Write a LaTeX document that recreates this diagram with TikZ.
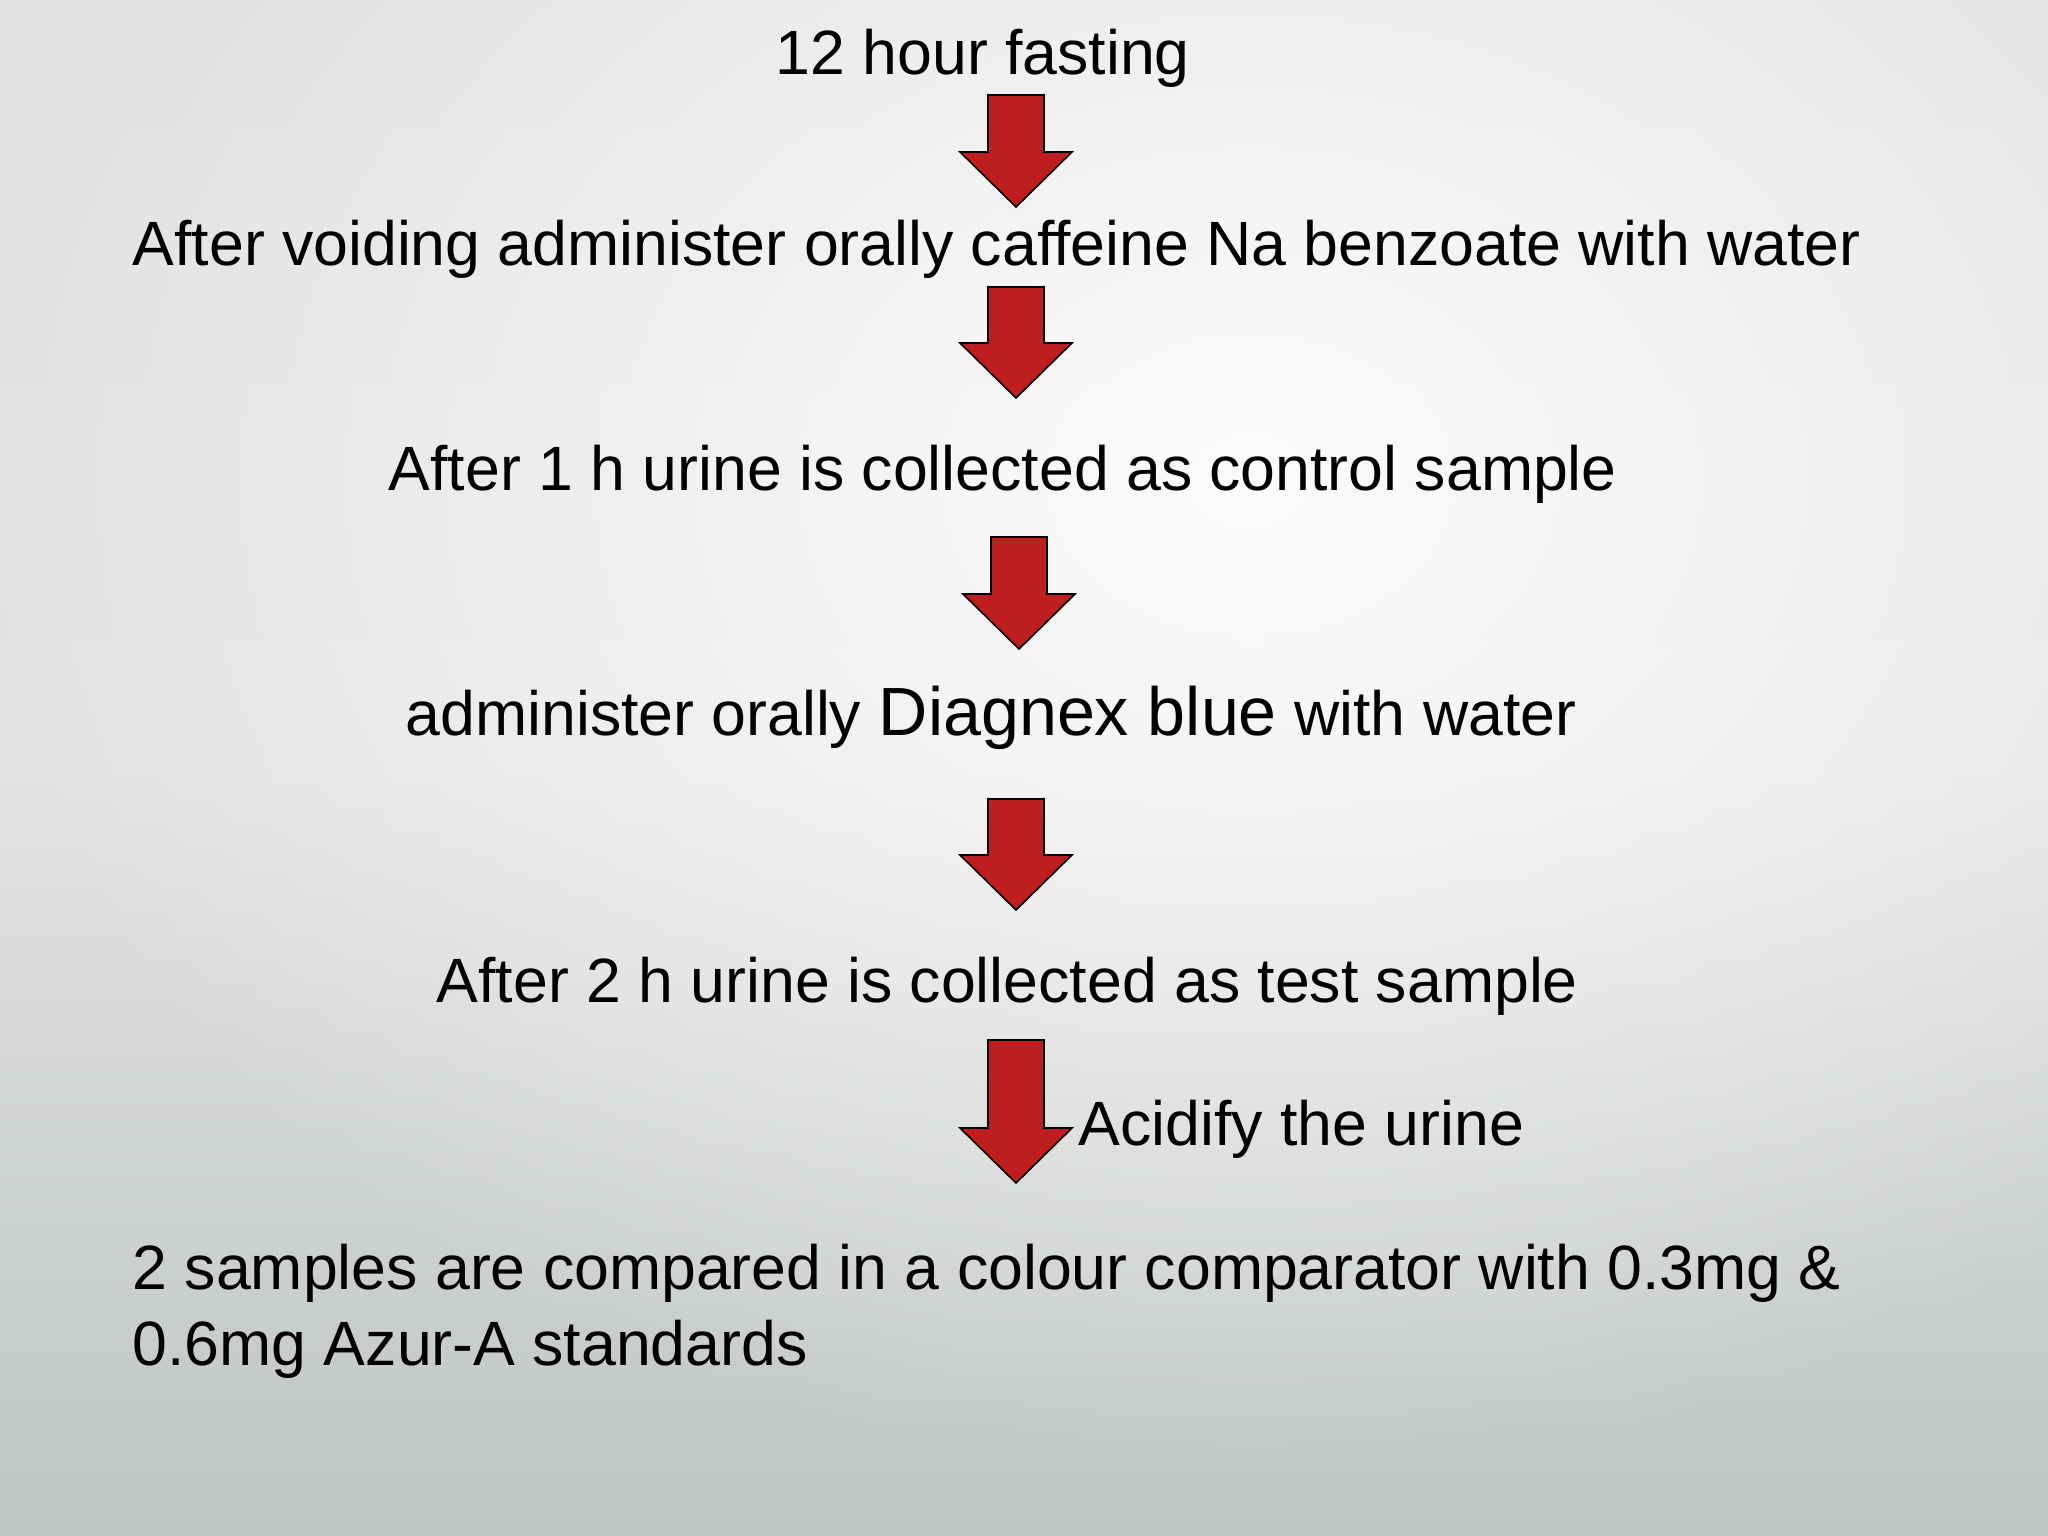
\documentclass[tikz,border=0pt]{standalone}
\usepackage{fontspec}
\setmainfont{Liberation Sans}
\usetikzlibrary{fadings,calc}
\definecolor{arrowred}{HTML}{BE1E1E}
\definecolor{bgtop}{HTML}{E0E0E0}
\definecolor{bgmid}{HTML}{E2E3E3}
\definecolor{bgbot}{HTML}{C0C4C4}
\tikzfading[name=glow, inner color=transparent!10, outer color=transparent!100]
\tikzset{
  txt/.style={anchor=base west, inner sep=0pt, font=\fontsize{17.8pt}{21pt}\selectfont, text=black},
  blockarrow/.style={fill=arrowred, draw=black, line width=0.45pt, line join=miter}
}
\newcommand{\blockarr}[4]{% name, center x, top y, tip y
  \coordinate (#1) at (#2,#3);
  \coordinate (#1tip) at (#2,#4);
  \draw[blockarrow] ($(#1)+(-28,0)$) -- ($(#1)+(28,0)$) -- ($(#1tip)+(28,-55)$) -- ($(#1tip)+(56,-55)$) -- (#1tip) -- ($(#1tip)+(-56,-55)$) -- ($(#1tip)+(-28,-55)$) -- cycle;
}
\begin{document}
\begin{tikzpicture}[x=0.01cm,y=-0.01cm]
\useasboundingbox (0,0) rectangle (2048,1536);
\shade[top color=bgtop, bottom color=bgbot, middle color=bgmid] (0,0) rectangle (2048,1536);
\begin{scope}
\clip (0,0) rectangle (2048,1536);
\fill[white, path fading=glow] (1250,480) ellipse (1300 and 1000);
\end{scope}

\node[txt] (l1) at (775,74) {12 hour fasting};
\node[txt] (l2) at (132,265) {After voiding administer orally caffeine Na benzoate with water};
\node[txt] (l3) at (388,490) {After 1 h urine is collected as control sample};
\node[txt] (l4) at (405,735) {administer orally {\fontsize{19.4pt}{23pt}\selectfont Diagnex blue} with water};
\node[txt] (l5) at (436,1002) {After 2 h urine is collected as test sample};
\node[txt] (acid) at (1078,1145) {Acidify the urine};
\node[txt] (l7) at (132,1289) {2 samples are compared in a colour comparator with 0.3mg \&};
\node[txt] (l8) at (132,1365) {0.6mg Azur-A standards};

\blockarr{a1}{1016}{95}{207}
\blockarr{a2}{1016}{287}{398}
\blockarr{a3}{1019}{537}{649}
\blockarr{a4}{1016}{799}{910}
\blockarr{a5}{1016}{1040}{1183}
\end{tikzpicture}
\end{document}
